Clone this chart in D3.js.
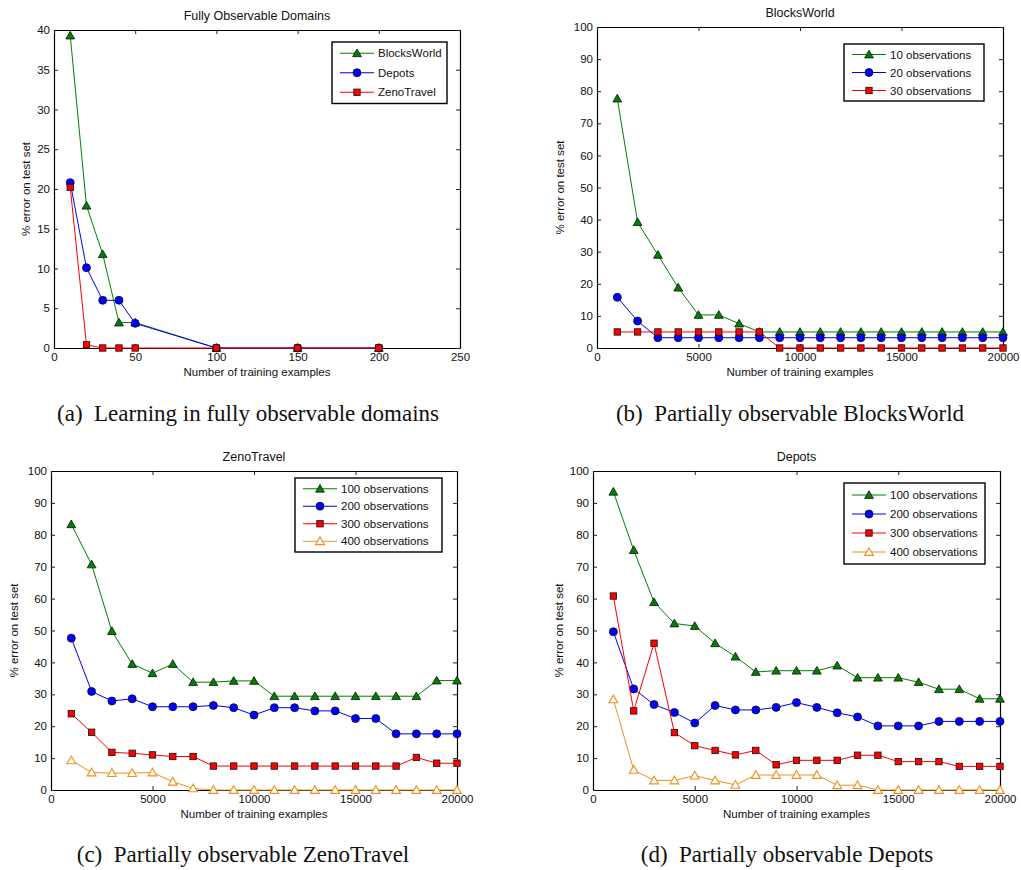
<!DOCTYPE html>
<html>
<head>
<meta charset="utf-8">
<script src="https://cdnjs.cloudflare.com/ajax/libs/d3/7.8.5/d3.min.js"></script>
<style>
  body { margin: 0; background: #fff; }
  svg text { font-family: "Liberation Sans", Arial, sans-serif; }
  svg text.caption { font-family: "Liberation Serif", "Times New Roman", serif; }
</style>
</head>
<body>
<div id="fig"></div>
<script>
// Part 1: values

// (a) fully observable domains
var fullX = [10, 20, 30, 40, 50, 100, 150, 200];
var fullBlocks = [39.3, 17.9, 11.8, 3.2, 3.2, 0, 0, 0];
var fullDepots = [20.8, 10.1, 6.0, 6.0, 3.1, 0, 0, 0];
var fullZeno = [20.2, 0.4, 0, 0, 0, 0, 0, 0];

// x values shared by (b), (c), (d)
var trainX = [1000, 2000, 3000, 4000, 5000, 6000, 7000, 8000, 9000, 10000,
              11000, 12000, 13000, 14000, 15000, 16000, 17000, 18000, 19000, 20000];

// (b) BlocksWorld
var bw10 = [77.7, 39.2, 29.0, 18.8, 10.3, 10.3, 7.6, 5.0, 5.0, 5.0, 5.0, 5.0, 5.0, 5.0, 5.0, 5.0, 5.0, 5.0, 5.0, 5.0];
var bw20 = [15.8, 8.4, 3.2, 3.2, 3.2, 3.2, 3.2, 3.2, 3.2, 3.2, 3.2, 3.2, 3.2, 3.2, 3.2, 3.2, 3.2, 3.2, 3.2, 3.2];
var bw30 = [5.0, 5.0, 5.0, 5.0, 5.0, 5.0, 5.0, 5.0, 0, 0, 0, 0, 0, 0, 0, 0, 0, 0, 0, 0];

// (c) ZenoTravel
var zt100 = [83.3, 70.7, 49.8, 39.5, 36.6, 39.5, 33.8, 33.8, 34.2, 34.2, 29.4, 29.4, 29.4, 29.4, 29.4, 29.4, 29.4, 29.4, 34.3, 34.3];
var zt200 = [47.6, 30.9, 27.9, 28.6, 26.1, 26.1, 26.1, 26.5, 25.8, 23.5, 25.8, 25.8, 24.8, 24.8, 22.4, 22.4, 17.6, 17.6, 17.6, 17.6];
var zt300 = [23.9, 18.1, 11.8, 11.5, 11.0, 10.5, 10.5, 7.5, 7.5, 7.5, 7.5, 7.5, 7.5, 7.5, 7.5, 7.5, 7.5, 10.2, 8.4, 8.4];
var zt400 = [9.3, 5.5, 5.3, 5.3, 5.5, 2.6, 0.5, 0, 0, 0, 0, 0, 0, 0, 0, 0, 0, 0, 0, 0];

// (d) Depots
var dp100 = [93.5, 75.2, 58.9, 52.2, 51.4, 46.0, 41.8, 37.0, 37.4, 37.4, 37.4, 39.0, 35.2, 35.2, 35.2, 33.8, 31.6, 31.6, 28.6, 28.6];
var dp200 = [49.6, 31.7, 26.8, 24.3, 21.0, 26.5, 25.1, 25.1, 25.9, 27.4, 25.9, 24.2, 22.9, 20.1, 20.1, 20.1, 21.5, 21.5, 21.5, 21.5];
var dp300 = [60.8, 24.8, 46.0, 18.0, 13.9, 12.4, 11.0, 12.4, 7.9, 9.3, 9.3, 9.3, 10.9, 10.9, 8.9, 8.9, 8.9, 7.4, 7.4, 7.4];
var dp400 = [28.4, 6.3, 3.0, 3.0, 4.5, 3.0, 1.6, 4.7, 4.7, 4.7, 4.7, 1.5, 1.5, 0, 0, 0, 0, 0, 0, 0];

// tick values
var fullXTicks = [0, 50, 100, 150, 200, 250];
var fullYTicks = [0, 5, 10, 15, 20, 25, 30, 35, 40];
var trainXTicks = [0, 5000, 10000, 15000, 20000];
var pctYTicks = [0, 10, 20, 30, 40, 50, 60, 70, 80, 90, 100];

var titles = ["Fully Observable Domains", "BlocksWorld", "ZenoTravel", "Depots"];
var captions = ["(a)\u2002Learning in fully observable domains",
                "(b)\u2002Partially observable BlocksWorld",
                "(c)\u2002Partially observable ZenoTravel",
                "(d)\u2002Partially observable Depots"];
var xLabel = "Number of training examples";
var yLabel = "% error on test set";

// Part 2: drawing

var width = 1021;
var height = 870;

var svg = d3.select("#fig")
    .append("svg")
    .attr("width", width)
    .attr("height", height);

var GREEN = "#008000", BLUE = "#0000ff", RED = "#ff0000", ORANGE = "#f0901e";

// marker shapes, roughly like matlab's ^ o s
function marker(sel, type, color) {
    if (type == "tri" || type == "otri") {
        sel.append("path")
            .attr("d", "M0,-4.3L4.4,3.4L-4.4,3.4Z")
            .attr("fill", type == "tri" ? color : "#fff")
            .attr("stroke", type == "tri" ? "#111" : color)
            .attr("stroke-width", type == "tri" ? 0.8 : 1.1);
    } else if (type == "circ") {
        sel.append("circle")
            .attr("r", 4)
            .attr("fill", color)
            .attr("stroke", "#111")
            .attr("stroke-width", 0.8);
    } else {
        sel.append("rect")
            .attr("x", -3.2).attr("y", -3.2)
            .attr("width", 6.4).attr("height", 6.4)
            .attr("fill", color)
            .attr("stroke", "#111")
            .attr("stroke-width", 0.8);
    }
}

function drawPanel(p) {
    var x = d3.scaleLinear().domain(p.xDomain).range([p.left, p.right]);
    var y = d3.scaleLinear().domain(p.yDomain).range([p.bottom, p.top]);
    var g = svg.append("g");

    g.append("rect")
        .attr("x", p.left).attr("y", p.top)
        .attr("width", p.right - p.left).attr("height", p.bottom - p.top)
        .attr("fill", "#fff");

    // axes with inward ticks on all four sides
    var fmt = d3.format("d");
    g.append("g").attr("transform", "translate(0," + p.bottom + ")")
        .call(d3.axisBottom(x).tickValues(p.xTicks).tickFormat(fmt).tickSizeInner(-4).tickSizeOuter(0).tickPadding(5));
    g.append("g").attr("transform", "translate(" + p.left + ",0)")
        .call(d3.axisLeft(y).tickValues(p.yTicks).tickFormat(fmt).tickSizeInner(-4).tickSizeOuter(0).tickPadding(4));
    g.append("g").attr("transform", "translate(0," + p.top + ")")
        .call(d3.axisTop(x).tickValues(p.xTicks).tickFormat("").tickSizeInner(-4).tickSizeOuter(0));
    g.append("g").attr("transform", "translate(" + p.right + ",0)")
        .call(d3.axisRight(y).tickValues(p.yTicks).tickFormat("").tickSizeInner(-4).tickSizeOuter(0));
    g.selectAll(".tick text").attr("font-size", 11.5).attr("fill", "#111");
    g.selectAll(".tick line").attr("stroke", "#222");
    g.selectAll(".domain").attr("stroke", "#000").attr("stroke-width", 1.2);

    // series
    var line = d3.line()
        .x(function(d) { return x(d[0]); })
        .y(function(d) { return y(d[1]); });

    p.series.forEach(function(s) {
        var pts = p.xs.map(function(v, i) { return [v, s.values[i]]; });
        g.append("path")
            .datum(pts)
            .attr("d", line)
            .attr("fill", "none")
            .attr("stroke", s.color)
            .attr("stroke-width", 1);
        g.selectAll(null)
            .data(pts)
            .enter()
            .append("g")
            .attr("transform", function(d) { return "translate(" + x(d[0]) + "," + y(d[1]) + ")"; })
            .each(function() { marker(d3.select(this), s.marker, s.color); });
    });

    // title, axis labels
    g.append("text")
        .attr("x", (p.left + p.right) / 2).attr("y", p.top - 10)
        .attr("text-anchor", "middle").attr("font-size", 12.5).attr("fill", "#111")
        .text(p.title);
    g.append("text")
        .attr("x", (p.left + p.right) / 2).attr("y", p.bottom + 28)
        .attr("text-anchor", "middle").attr("font-size", 11.5).attr("fill", "#111")
        .text(xLabel);
    g.append("text")
        .attr("transform", "translate(" + p.yLabelX + "," + (p.top + p.bottom) / 2 + ") rotate(-90)")
        .attr("text-anchor", "middle").attr("font-size", 11.5).attr("fill", "#111")
        .text(yLabel);

    // legend
    var L = p.legend;
    var lg = g.append("g");
    lg.append("rect")
        .attr("x", L.x).attr("y", L.y)
        .attr("width", L.w).attr("height", L.rowH * p.series.length + L.pad * 2)
        .attr("fill", "#fff").attr("stroke", "#000").attr("stroke-width", 1.4);
    p.series.forEach(function(s, i) {
        var cy = L.y + L.pad + L.rowH * (i + 0.5);
        lg.append("line")
            .attr("x1", L.x + 8).attr("x2", L.x + 42)
            .attr("y1", cy).attr("y2", cy)
            .attr("stroke", s.color).attr("stroke-width", 1.2);
        marker(lg.append("g").attr("transform", "translate(" + (L.x + 25) + "," + cy + ")"), s.marker, s.color);
        lg.append("text")
            .attr("x", L.x + 46).attr("y", cy).attr("dy", "0.35em")
            .attr("font-size", 11.5).attr("fill", "#111")
            .text(s.name);
    });

    // caption underneath
    svg.append("text")
        .attr("class", "caption")
        .attr("x", p.capX).attr("y", p.capY)
        .attr("text-anchor", "middle")
        .attr("font-size", 23).attr("fill", "#111")
        .text(p.caption);
}

drawPanel({
    left: 54, right: 460, top: 30, bottom: 348,
    xDomain: [0, 250], yDomain: [0, 40],
    xTicks: fullXTicks, yTicks: fullYTicks,
    xs: fullX, title: titles[0], caption: captions[0],
    yLabelX: 30, capX: 248, capY: 421,
    legend: { x: 332, y: 42, w: 115, rowH: 19.5, pad: 1.5 },
    series: [
        { name: "BlocksWorld", values: fullBlocks, color: GREEN, marker: "tri" },
        { name: "Depots", values: fullDepots, color: BLUE, marker: "circ" },
        { name: "ZenoTravel", values: fullZeno, color: RED, marker: "sq" }
    ]
});

drawPanel({
    left: 597, right: 1003, top: 27, bottom: 348,
    xDomain: [0, 20000], yDomain: [0, 100],
    xTicks: trainXTicks, yTicks: pctYTicks,
    xs: trainX, title: titles[1], caption: captions[1],
    yLabelX: 564, capX: 790, capY: 421,
    legend: { x: 844, y: 44, w: 140, rowH: 18, pad: 1.5 },
    series: [
        { name: "10 observations", values: bw10, color: GREEN, marker: "tri" },
        { name: "20 observations", values: bw20, color: BLUE, marker: "circ" },
        { name: "30 observations", values: bw30, color: RED, marker: "sq" }
    ]
});

drawPanel({
    left: 51, right: 457, top: 471, bottom: 790,
    xDomain: [0, 20000], yDomain: [0, 100],
    xTicks: trainXTicks, yTicks: pctYTicks,
    xs: trainX, title: titles[2], caption: captions[2],
    yLabelX: 18, capX: 243, capY: 862,
    legend: { x: 295, y: 478, w: 147, rowH: 17.5, pad: 2 },
    series: [
        { name: "100 observations", values: zt100, color: GREEN, marker: "tri" },
        { name: "200 observations", values: zt200, color: BLUE, marker: "circ" },
        { name: "300 observations", values: zt300, color: RED, marker: "sq" },
        { name: "400 observations", values: zt400, color: ORANGE, marker: "otri" }
    ]
});

drawPanel({
    left: 593, right: 1000, top: 471, bottom: 790,
    xDomain: [0, 20000], yDomain: [0, 100],
    xTicks: trainXTicks, yTicks: pctYTicks,
    xs: trainX, title: titles[3], caption: captions[3],
    yLabelX: 563, capX: 787, capY: 862,
    legend: { x: 844, y: 483, w: 141, rowH: 19, pad: 2.5 },
    series: [
        { name: "100 observations", values: dp100, color: GREEN, marker: "tri" },
        { name: "200 observations", values: dp200, color: BLUE, marker: "circ" },
        { name: "300 observations", values: dp300, color: RED, marker: "sq" },
        { name: "400 observations", values: dp400, color: ORANGE, marker: "otri" }
    ]
});
</script>
</body>
</html>
